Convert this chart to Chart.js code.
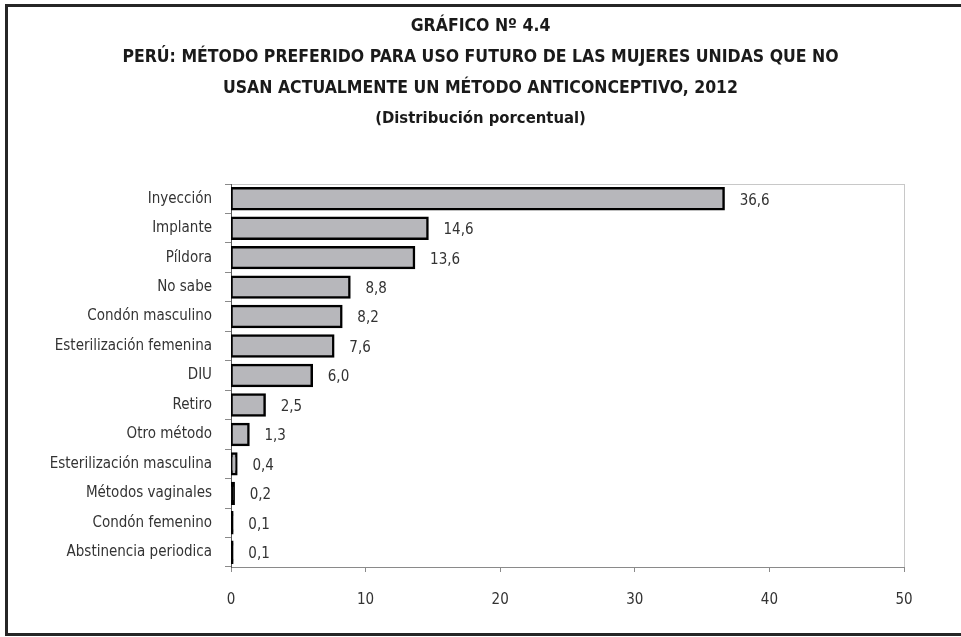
<!DOCTYPE html>
<html>
<head>
<meta charset="utf-8">
<script src="https://cdn.jsdelivr.net/npm/chart.js@4.4.1/dist/chart.umd.min.js"></script>
<style>
  html,body{margin:0;padding:0;background:#fff;overflow:hidden}
  #wrap{position:relative;width:961px;height:637px}
  #frame{position:absolute;left:5px;top:4px;width:1000px;height:626px;border:3px solid #262626;border-right:none}
  #myChart{position:absolute;left:0;top:0}
</style>
</head>
<body>
<div id="wrap">
  <div id="frame"></div>
  <canvas id="myChart" width="961" height="637"></canvas>
</div>
<script>
const metodos=['Inyección','Implante','Píldora','No sabe','Condón masculino','Esterilización femenina','DIU','Retiro','Otro método','Esterilización masculina','Métodos vaginales','Condón femenino','Abstinencia periodica']
const porcentaje=[36.6,14.6,13.6,8.8,8.2,7.6,6.0,2.5,1.3,0.4,0.2,0.1,0.1]
const ejeX=[0,10,20,30,40,50]

const titulo=['GRÁFICO Nº 4.4','PERÚ: MÉTODO PREFERIDO PARA USO FUTURO DE LAS MUJERES UNIDAS QUE NO','USAN ACTUALMENTE UN MÉTODO ANTICONCEPTIVO, 2012']
const subtitulo='(Distribución porcentual)'

const fuente="'Liberation Sans Narrow','Arial Narrow','DejaVu Sans Condensed',sans-serif"
Chart.defaults.font.family=fuente
Chart.defaults.color='#333'

// borde gris claro del area de trazado
const marco={
  id:'marco',
  beforeDraw(chart){
    const {ctx,chartArea:a}=chart
    ctx.save()
    ctx.strokeStyle='#c8c8c8'
    ctx.lineWidth=1
    ctx.strokeRect(a.left+0.5,a.top+0.5,a.right-a.left,a.bottom-a.top)
    ctx.restore()
  }
}

// etiquetas de valor a la derecha de cada barra
const valores={
  id:'valores',
  afterDatasetsDraw(chart){
    const ctx=chart.ctx
    const meta=chart.getDatasetMeta(0)
    ctx.save()
    ctx.font='15px '+fuente
    ctx.fillStyle='#333'
    ctx.textAlign='left'
    ctx.textBaseline='middle'
    meta.data.forEach((bar,i)=>{
      ctx.fillText(porcentaje[i].toFixed(1).replace('.',','),bar.x+16,bar.y+2)
    })
    ctx.restore()
  }
}

const ctx=document.getElementById('myChart')
const config={
  type:'bar',
  data:{
    labels:metodos,
    datasets:[{
      data:porcentaje,
      // las barras muy finas quedan solo con el borde negro
      backgroundColor:c=>c.raw<0.3?'#000':'#b7b7bb',
      borderColor:'#000',
      borderWidth:2.5,
      borderSkipped:false,
      inflateAmount:1.25,
      barPercentage:0.71,
      categoryPercentage:1
    }]
  },
  options:{
    indexAxis:'y',
    responsive:false,
    animation:false,
    layout:{padding:0},
    scales:{
      x:{
        min:0,max:50,
        afterBuildTicks(scale){scale.ticks=ejeX.map(v=>({value:v}))},
        afterFit(scale){scale.height=70},
        border:{color:'#8a8a8a',width:1},
        grid:{drawOnChartArea:false,tickLength:5,color:'#8a8a8a'},
        ticks:{padding:19,font:{size:15},color:'#333'}
      },
      y:{
        afterFit(scale){scale.width=231},
        border:{color:'#555',width:1},
        grid:{drawOnChartArea:false,tickLength:6,color:'#8a8a8a',offset:true},
        ticks:{padding:13,font:{size:15},color:'#333'}
      },
      // eje vacio a la derecha solo para dejar margen
      y2:{
        type:'category',
        position:'right',
        afterFit(scale){scale.width=57},
        border:{display:false},
        grid:{display:false},
        ticks:{display:false}
      }
    },
    plugins:{
      legend:{display:false},
      tooltip:{enabled:false},
      title:{
        display:true,
        text:titulo,
        color:'#1a1a1a',
        font:{size:17.5,weight:'bold',lineHeight:'31px'},
        padding:{top:11,bottom:0}
      },
      subtitle:{
        display:true,
        text:subtitulo,
        color:'#1a1a1a',
        font:{size:16.5,weight:'bold',lineHeight:'28px'},
        padding:{top:1,bottom:51}
      }
    }
  },
  plugins:[marco,valores]
}
const charts=new Chart(ctx,config)
</script>
</body>
</html>
